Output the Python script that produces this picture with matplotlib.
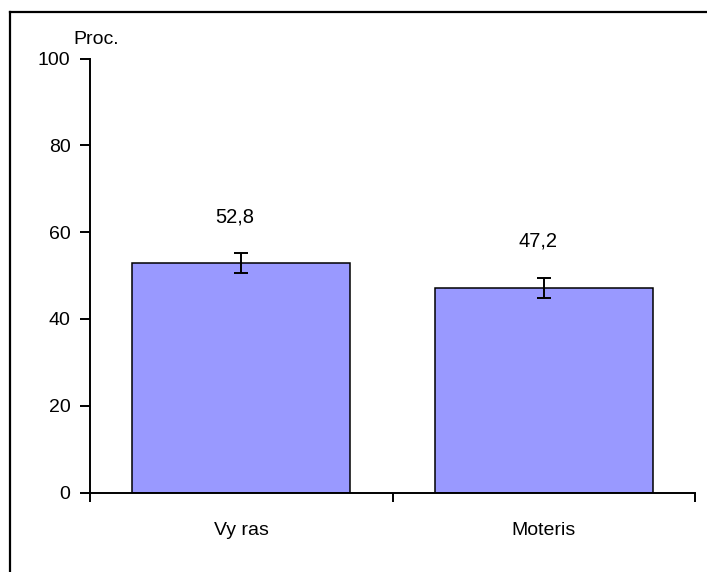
import matplotlib
matplotlib.use("Agg")
import matplotlib.pyplot as plt
from matplotlib.lines import Line2D

categories = ["Vy ras", "Moteris"]
values = [52.8, 47.2]
errors = [2.3, 2.3]
value_labels = ["52,8", "47,2"]
yticks = [0, 20, 40, 60, 80, 100]

plt.rcParams['font.family'] = ['Liberation Sans', 'DejaVu Sans']

fig = plt.figure(figsize=(7.07, 5.72), dpi=100)
W, H = 707, 572
ax = fig.add_axes([90 / W, 1 - 492.5 / H, 605 / W, (492.5 - 58.7) / H])

x = list(range(len(categories)))
ax.bar(x, values, width=0.72, color="#9999FF", edgecolor="black", linewidth=1.1, zorder=2)
ax.errorbar(x, values, yerr=errors, fmt="none", ecolor="black", elinewidth=1.4,
            capsize=4.7, capthick=1.4, zorder=3)
for xi, v, lab in zip(x, values, value_labels):
    ax.text(xi - 0.02, v + 10.8, lab, ha="center", va="center", fontsize=14.5)

ax.set_xlim(-0.5, 1.5)
ax.set_ylim(0, 100)
ax.set_yticks(yticks)
ax.set_yticklabels([str(t) for t in yticks], fontsize=14)
ax.tick_params(axis="y", direction="out", length=7, width=1.4, pad=7)

ax.set_xticks([-0.5, 0.5, 1.5])
ax.set_xticklabels([])
ax.tick_params(axis="x", which="major", direction="out", length=6.5, width=1.4)
ax.set_xticks(x, minor=True)
ax.set_xticklabels(categories, minor=True, fontsize=14)
ax.tick_params(axis="x", which="minor", length=0, pad=21)

for s in ["top", "right"]:
    ax.spines[s].set_visible(False)
for s in ["left", "bottom"]:
    ax.spines[s].set_linewidth(1.4)

fig.text(73 / W, 1 - 40 / H, "Proc.", ha="left", va="center", fontsize=14)

# outer frame (only top and left visible)
fig.add_artist(Line2D([10 / W, 1.0], [1 - 12 / H, 1 - 12 / H], color="black", lw=1.6,
                      transform=fig.transFigure))
fig.add_artist(Line2D([10 / W, 10 / W], [0.0, 1 - 12 / H], color="black", lw=1.6,
                      transform=fig.transFigure))

fig.savefig("out.png", dpi=100, facecolor="white")
